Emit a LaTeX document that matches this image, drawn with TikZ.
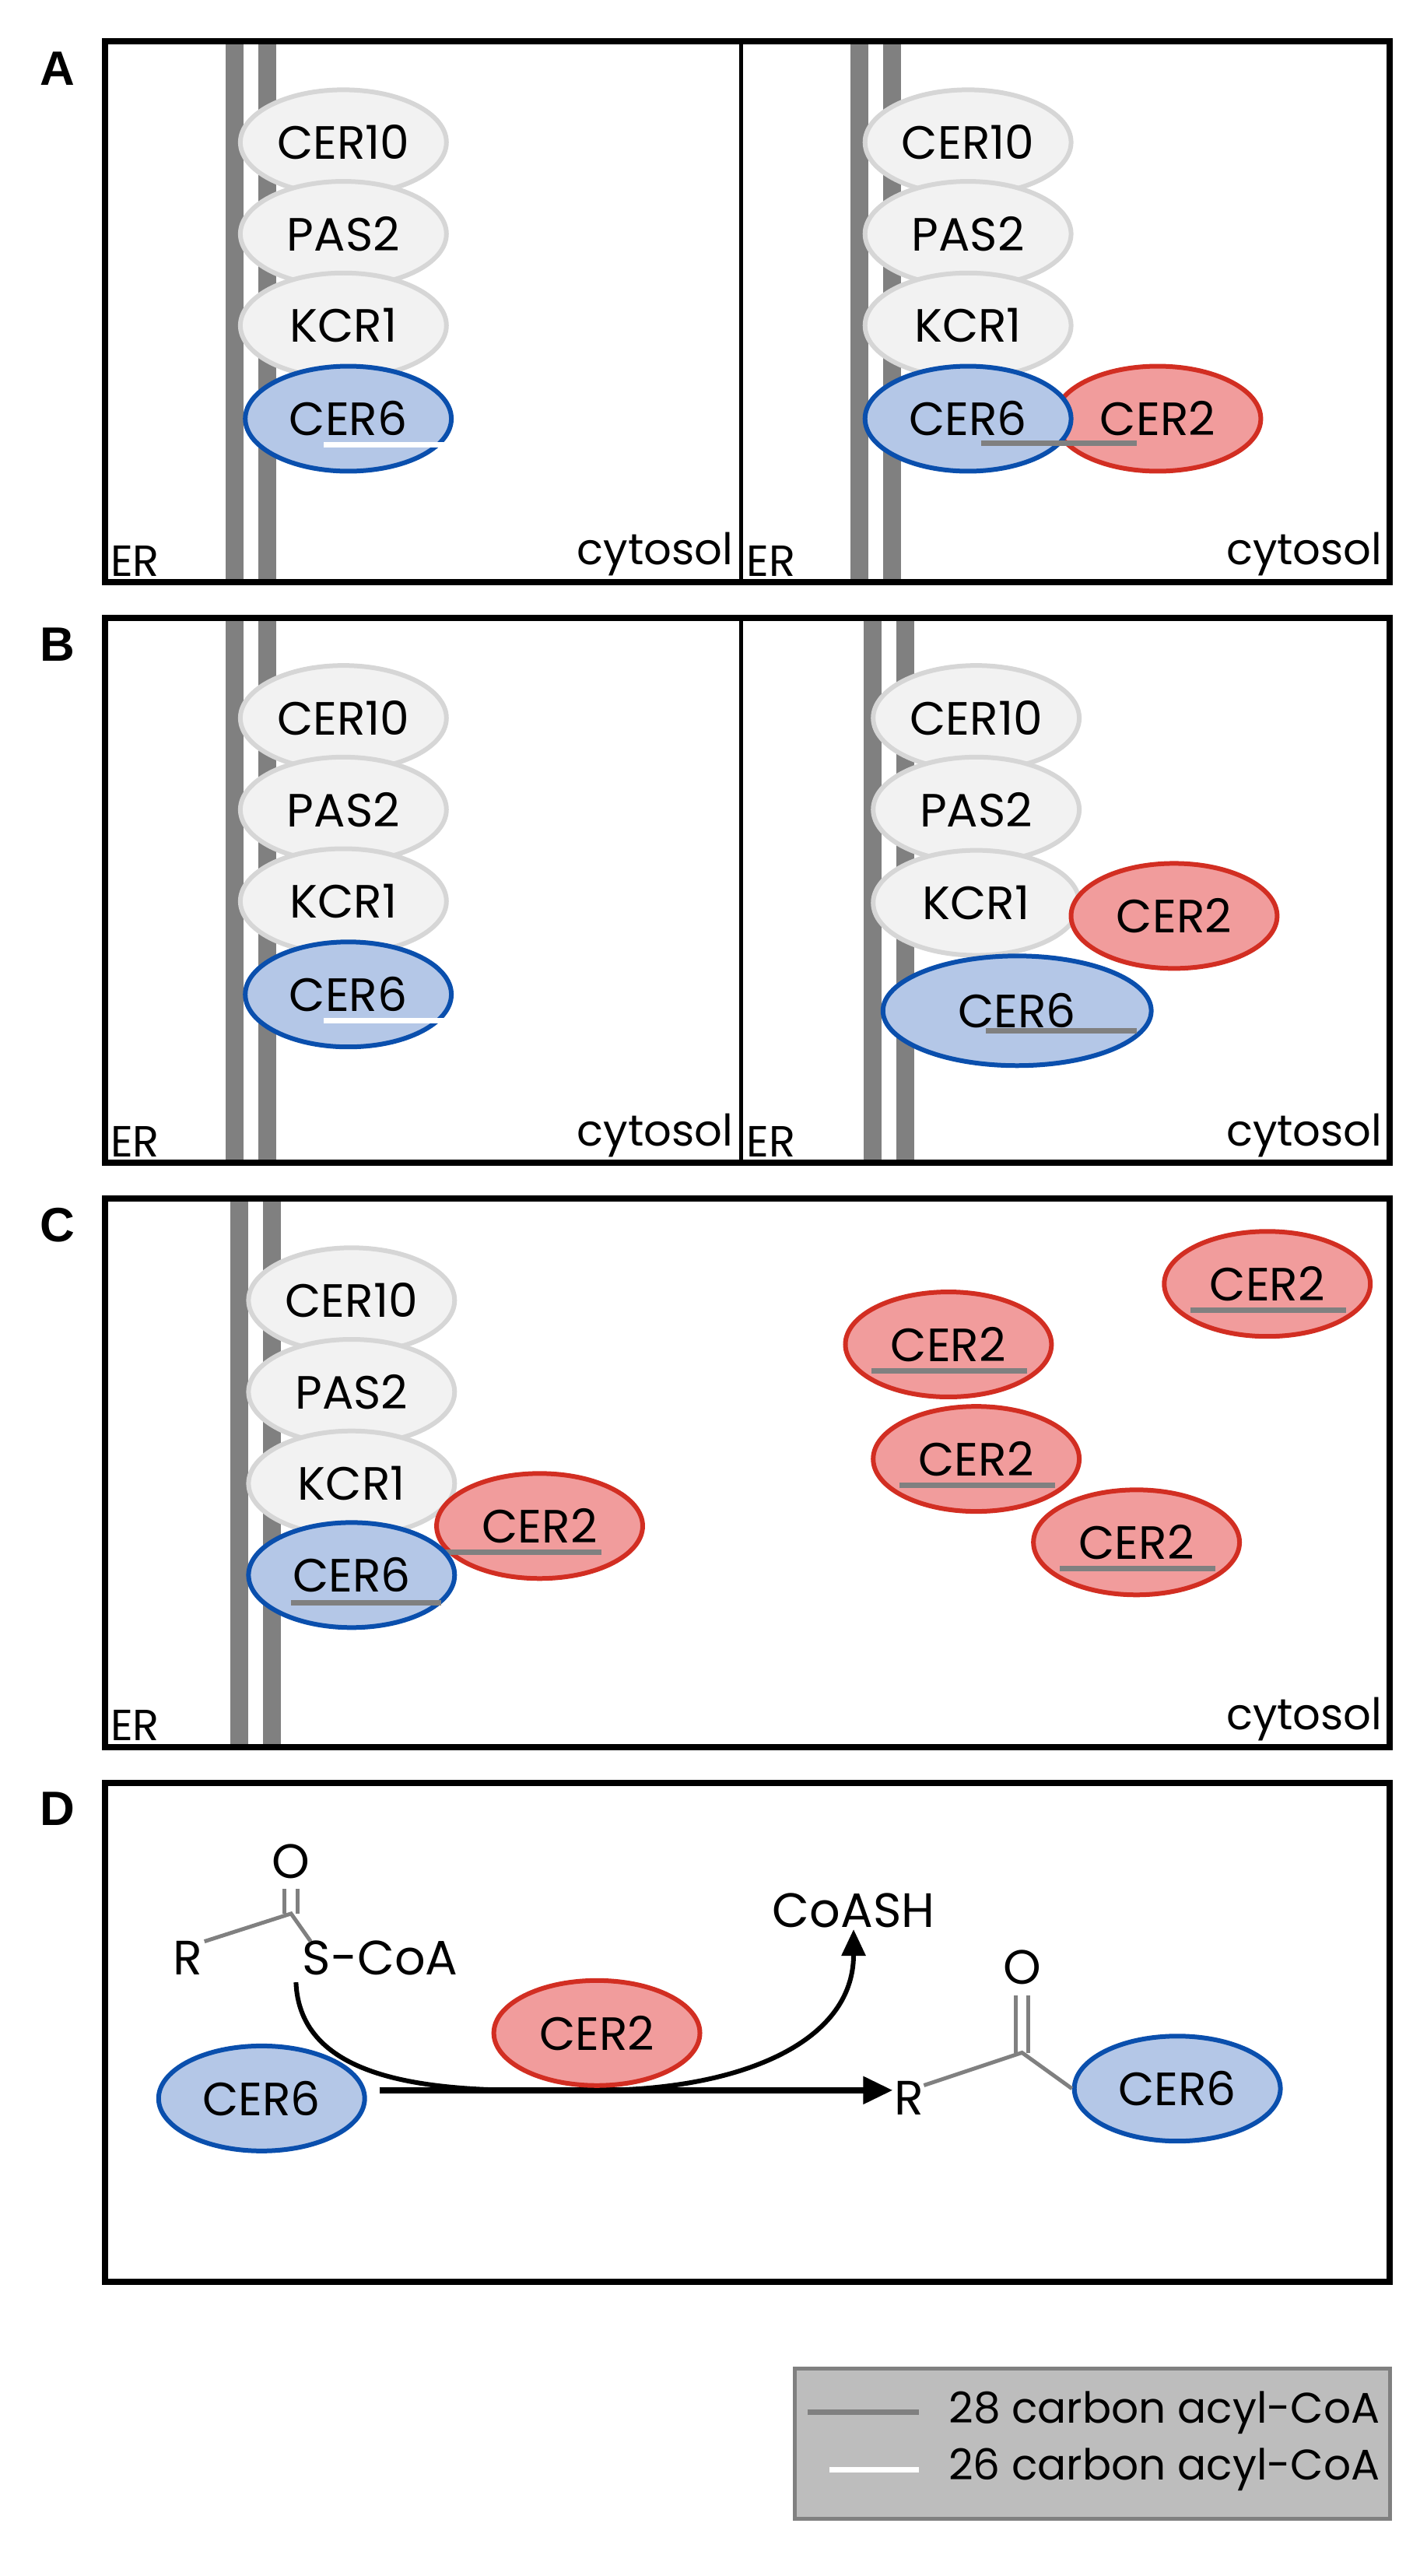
\documentclass[tikz,border=0pt]{standalone}
\usepackage{fontspec}
\setmainfont{Poppins}
\newfontfamily\lbl{Liberation Sans}
\usetikzlibrary{arrows.meta,shapes.geometric}
\definecolor{memb}{HTML}{808080}
\definecolor{protfill}{HTML}{F2F2F2}
\definecolor{protline}{HTML}{D6D6D6}
\definecolor{bluefill}{HTML}{B4C7E7}
\definecolor{blueline}{HTML}{0A4FAD}
\definecolor{redfill}{HTML}{F19C9C}
\definecolor{redline}{HTML}{D22E22}
\definecolor{chain}{HTML}{808080}
\definecolor{legfill}{HTML}{BDBDBD}
\tikzset{
  prot/.style={ellipse,draw=protline,fill=protfill,line width=6pt,minimum width=265pt,minimum height=135pt,inner sep=0pt,font=\fontsize{60}{66}\selectfont},
  cersix/.style={prot,draw=blueline,fill=bluefill},
  certwo/.style={prot,draw=redline,fill=redfill},
  panel/.style={draw=black,line width=8pt},
  membrane/.style={fill=memb,draw=none},
  acyl/.style={draw=chain,line width=7pt},
  acylw/.style={draw=white,line width=7pt},
  region/.style={font=\fontsize{56}{60}\selectfont},
  chem/.style={font=\fontsize{62}{66}\selectfont,inner sep=2pt},
  legtext/.style={font=\fontsize{55}{60}\selectfont,inner sep=2pt},
  bond/.style={draw=chain,line width=5pt},
  lettr/.style={font=\lbl\bfseries\fontsize{62}{66}\selectfont}
}
\begin{document}
\begin{tikzpicture}[x=2.1026pt,y=-2.1026pt]
    \useasboundingbox (0,0) rectangle (868,1575);

    % panel A
    \node[lettr] (labA) at (35,42) {A};
    \fill[membrane] (138,25) rectangle (149,356);
    \fill[membrane] (158,25) rectangle (169,356);
    \fill[membrane] (520,25) rectangle (531,356);
    \fill[membrane] (540,25) rectangle (551,356);
    \draw[panel] (64,25) rectangle (850,356);
    \draw[line width=5pt] (453,25) -- (453,356);
    \node[prot] (a1cer10) at (210,87) {CER10};
    \node[prot] (a1pas2) at (210,143) {PAS2};
    \node[prot] (a1kcr1) at (210,199) {KCR1};
    \node[cersix] (a1cer6) at (213,256) {CER6};
    \draw[acylw] (198,272) -- (275,272);
    \node[prot] (a2cer10) at (592,87) {CER10};
    \node[prot] (a2pas2) at (592,143) {PAS2};
    \node[prot] (a2kcr1) at (592,199) {KCR1};
    \node[certwo] (a2cer2) at (708,256) {CER2};
    \node[cersix] (a2cer6) at (592,256) {CER6};
    \draw[acyl] (600,271) -- (695,271);
    \node[region,anchor=south west] (a1er) at (66,354) {ER};
    \node[region,anchor=south east] (a1cyt) at (450,354) {cytosol};
    \node[region,anchor=south west] (a2er) at (455,354) {ER};
    \node[region,anchor=south east] (a2cyt) at (847,354) {cytosol};

    % panel B
    \node[lettr] (labB) at (35,394) {B};
    \fill[membrane] (138,378) rectangle (149,711);
    \fill[membrane] (158,378) rectangle (169,711);
    \fill[membrane] (528,378) rectangle (539,711);
    \fill[membrane] (548,378) rectangle (559,711);
    \draw[panel] (64,378) rectangle (850,711);
    \draw[line width=5pt] (453,378) -- (453,711);
    \node[prot] (b1cer10) at (210,439) {CER10};
    \node[prot] (b1pas2) at (210,495) {PAS2};
    \node[prot] (b1kcr1) at (210,551) {KCR1};
    \node[cersix] (b1cer6) at (213,608) {CER6};
    \draw[acylw] (198,624) -- (275,624);
    \node[prot] (b2cer10) at (597,439) {CER10};
    \node[prot] (b2pas2) at (597,495) {PAS2};
    \node[prot] (b2kcr1) at (597,552) {KCR1};
    \node[certwo] (b2cer2) at (718,560) {CER2};
    \node[cersix,minimum width=345pt,minimum height=141pt] (b2cer6) at (622,618) {CER6};
    \draw[acyl] (603,630) -- (695,630);
    \node[region,anchor=south west] (b1er) at (66,709) {ER};
    \node[region,anchor=south east] (b1cyt) at (450,709) {cytosol};
    \node[region,anchor=south west] (b2er) at (455,709) {ER};
    \node[region,anchor=south east] (b2cyt) at (847,709) {cytosol};

    % panel C
    \node[lettr] (labC) at (35,749) {C};
    \fill[membrane] (141,733) rectangle (152,1068);
    \fill[membrane] (161,733) rectangle (172,1068);
    \draw[panel] (64,733) rectangle (850,1068);
    \node[prot] (ccer10) at (215,795) {CER10};
    \node[prot] (cpas2) at (215,851) {PAS2};
    \node[prot] (ckcr1) at (215,907) {KCR1};
    \node[certwo] (ccer2) at (330,933) {CER2};
    \draw[acyl] (270,949) -- (368,949);
    \node[cersix] (ccer6) at (215,963) {CER6};
    \draw[acyl] (178,980) -- (270,980);
    \node[certwo] (cfree1) at (580,822) {CER2};
    \draw[acyl] (533,838) -- (628,838);
    \node[certwo] (cfree2) at (775,785) {CER2};
    \draw[acyl] (728,801) -- (823,801);
    \node[certwo] (cfree3) at (597,892) {CER2};
    \draw[acyl] (550,908) -- (645,908);
    \node[certwo] (cfree4) at (695,943) {CER2};
    \draw[acyl] (648,959) -- (743,959);
    \node[region,anchor=south west] (cer) at (66,1066) {ER};
    \node[region,anchor=south east] (ccyt) at (847,1066) {cytosol};

    % panel D
    \node[lettr] (labD) at (35,1106) {D};
    \draw[panel] (64,1090) rectangle (850,1395);
    \node[chem] (oxo1) at (178,1138) {O};
    \coordinate (carb1) at (178,1170);
    \node[chem] (rone) at (115,1197) {R};
    \node[chem,anchor=west] (scoa) at (184,1197) {S-CoA};
    \draw[bond] (174,1155) -- (174,1170);
    \draw[bond] (182,1155) -- (182,1170);
    \draw[bond] (125,1187) -- (carb1) -- (190,1187);
    \node[chem] (coash) at (522,1168) {CoASH};
    \node[cersix] (dcer6a) at (160,1283) {CER6};
    \node[chem] (rtwo) at (556,1283) {R};
    \node[cersix] (dcer6b) at (720,1277) {CER6};
    \node[chem] (oxo2) at (625,1203) {O};
    \coordinate (carb2) at (625,1255);
    \draw[bond] (621,1220) -- (621,1255);
    \draw[bond] (629,1220) -- (629,1255);
    \draw[bond] (565,1275) -- (carb2) -- (dcer6b.west);
    \coordinate (cstart) at (181,1212);
    \coordinate (cbot) at (365,1278);
    \coordinate (astart) at (232,1278);
    \draw[line width=8pt,-{Triangle[length=38pt,width=34pt]}] (astart) -- (rtwo.west |- cbot);
    \draw[line width=6pt,-{Triangle[length=34pt,width=30pt]}] (cstart) .. controls (184,1285) and (300,1278) .. (cbot) .. controls (450,1278) and (522,1250) .. (coash.south);
    \node[certwo] (dcer2) at (365,1243) {CER2};

    % legend
    \draw[fill=legfill,draw=gray,line width=5pt] (486,1448) rectangle (850,1540);
    \coordinate (lg1a) at (494,1475);
    \coordinate (lg1b) at (562,1475);
    \node[legtext,anchor=east] (leg28) at (845,1475) {28 carbon acyl-CoA};
    \draw[acyl] (lg1a) -- (lg1b);
    \coordinate (lg2a) at (507,1510);
    \coordinate (lg2b) at (562,1510);
    \node[legtext,anchor=east] (leg26) at (845,1510) {26 carbon acyl-CoA};
    \draw[acylw] (lg2a) -- (lg2b);
\end{tikzpicture}
\end{document}
